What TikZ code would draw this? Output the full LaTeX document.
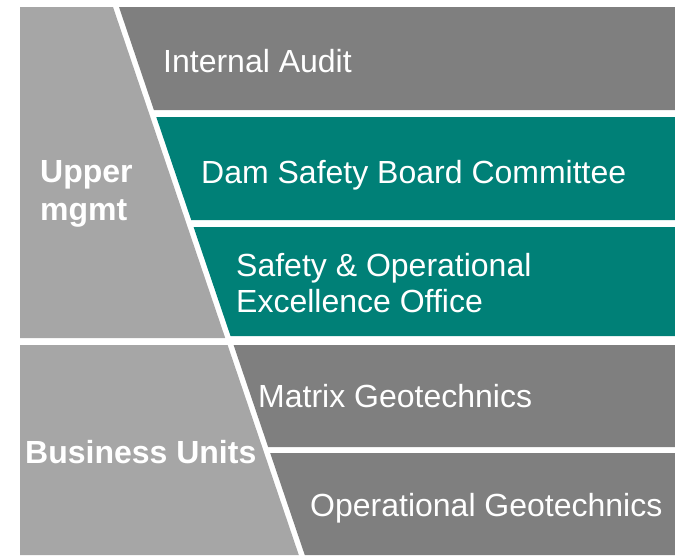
\documentclass[tikz,border=0pt]{standalone}
\usepackage{fontspec}
\setmainfont{Liberation Sans}
\usetikzlibrary{calc}

\definecolor{lightgrey}{RGB}{166,166,166}
\definecolor{darkgrey}{RGB}{127,127,127}
\definecolor{boardteal}{RGB}{0,128,119}

\tikzset{
  boxtext/.style={text=white, inner sep=0pt, anchor=base west, align=left,
    font=\fontsize{32}{36}\selectfont},
  headtext/.style={boxtext, font=\fontsize{32}{38}\selectfont\bfseries}
}

\begin{document}
\begin{tikzpicture}[x=1pt,y=-1pt]

\useasboundingbox (0,0) rectangle (675,555);

% left column, split in two
\fill[lightgrey] (20,7) -- (113,7) -- (225.2,338) -- (20,338) -- cycle;
\fill[lightgrey] (20,345) -- (227.6,345) -- (298.8,555) -- (20,555) -- cycle;

% bands on the right, left edge follows the slant
\foreach \top/\bot/\col in {7/110/darkgrey, 117/220/boardteal, 227/336/boardteal,
                             345/447/darkgrey, 453/555/darkgrey}{
  \pgfmathsetmacro{\xt}{119+0.339*(\top-7)}
  \pgfmathsetmacro{\xb}{119+0.339*(\bot-7)}
  \fill[\col] (\xt,\top) -- (675,\top) -- (675,\bot) -- (\xb,\bot) -- cycle;
}

% base of a two-line node is on its last line
\node[headtext] (upper) at (40,220) {Upper\\mgmt};
\node[headtext] (units) at (25,463) {Business Units};

\node[boxtext] (audit) at (163,72) {Internal Audit};
\node[boxtext] (board) at (201,183) {Dam Safety Board Committee};
\node[boxtext] (office) at (236,312) {Safety \& Operational\\Excellence Office};
\node[boxtext] (matrix) at (258,407) {Matrix Geotechnics};
\node[boxtext] (opgeo) at (310,516) {Operational Geotechnics};

\end{tikzpicture}
\end{document}
